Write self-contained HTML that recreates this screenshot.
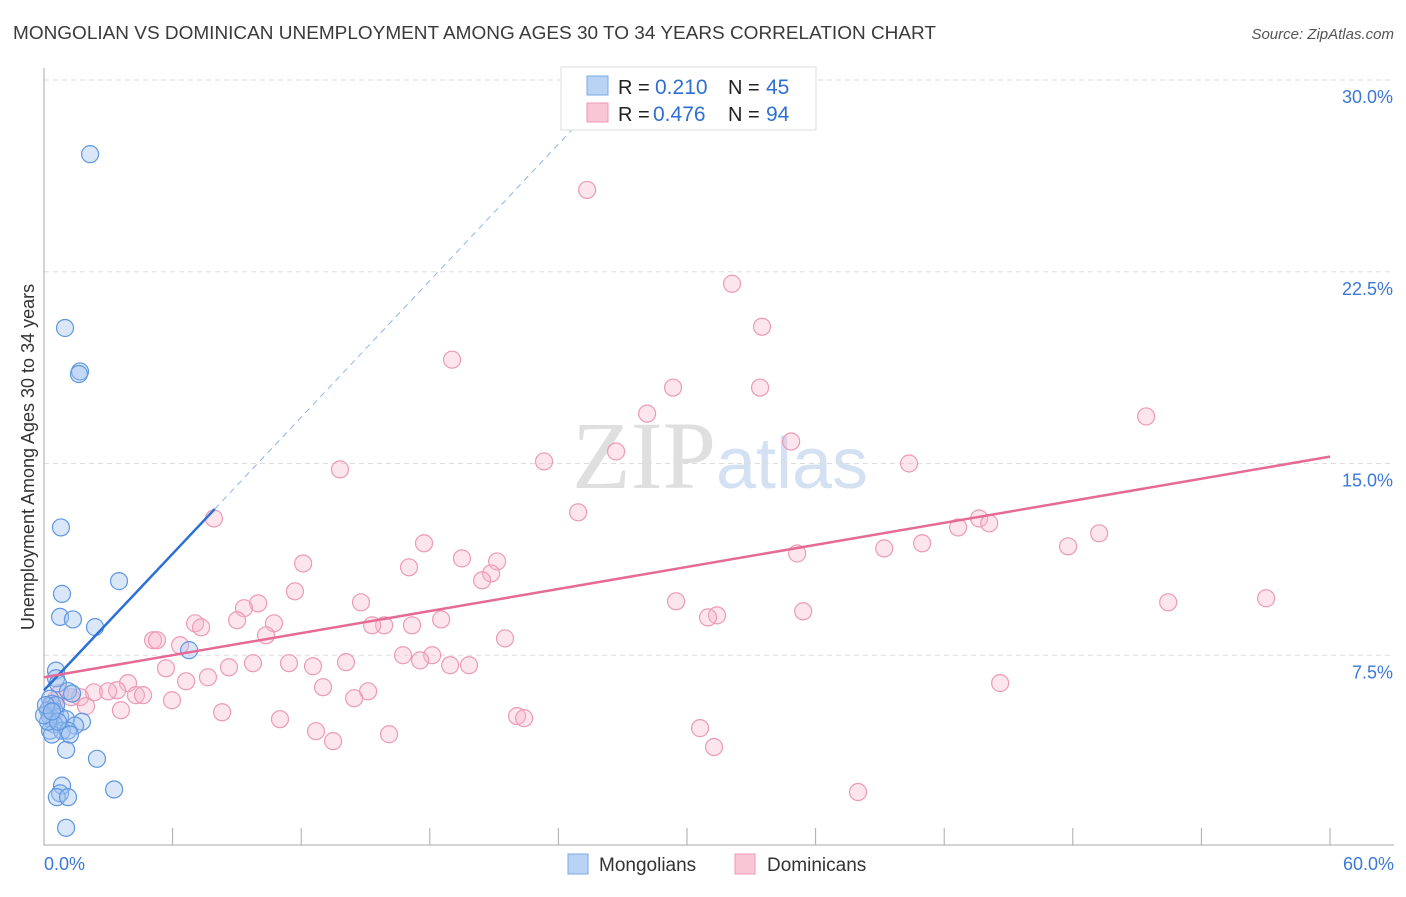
<!DOCTYPE html>
<html><head><meta charset="utf-8"><style>
body{margin:0;background:#fff;font-family:"Liberation Sans",sans-serif;}
</style></head><body>
<svg id="chart" width="1406" height="892" xmlns="http://www.w3.org/2000/svg" font-family="Liberation Sans, sans-serif">
<text x="13" y="39" font-size="18" fill="#3a3a3a" textLength="923" lengthAdjust="spacingAndGlyphs">MONGOLIAN VS DOMINICAN UNEMPLOYMENT AMONG AGES 30 TO 34 YEARS CORRELATION CHART</text>
<text x="1394" y="39" font-size="15" fill="#555" text-anchor="end" font-style="italic">Source: ZipAtlas.com</text>
<text x="720" y="488" font-size="96" text-anchor="middle" fill="#ddd" opacity="0.8"><tspan font-family="Liberation Serif, serif" fill="#d8d8d8">ZIP</tspan><tspan font-size="72" fill="#c9daf0">atlas</tspan></text>
<text transform="translate(34,457) rotate(-90)" font-size="18" fill="#333" text-anchor="middle">Unemployment Among Ages 30 to 34 years</text>
<g id="grid"></g><g id="pts"></g><g id="lines"></g>
<g>
<rect x="561" y="67" width="255" height="63" fill="#fff" stroke="#ddd"/>
<rect x="587" y="76" width="21" height="19" fill="#b9d3f5" stroke="#7aa9e8"/>
<rect x="587" y="103" width="21" height="19" fill="#f9c6d6" stroke="#ee97b4"/>
<text x="618" y="94" font-size="20" fill="#222">R =</text>
<text x="655" y="94" font-size="21" fill="#2f6fd1">0.210</text>
<text x="728" y="94" font-size="20" fill="#222">N =</text>
<text x="766" y="94" font-size="21" fill="#2f6fd1">45</text>
<text x="618" y="121" font-size="20" fill="#222">R =</text>
<text x="653" y="121" font-size="21" fill="#2f6fd1">0.476</text>
<text x="728" y="121" font-size="20" fill="#222">N =</text>
<text x="766" y="121" font-size="21" fill="#2f6fd1">94</text>
</g>
<g>
<rect x="568" y="854" width="20" height="20" fill="#b9d3f5" stroke="#7aa9e8"/>
<text x="599" y="871" font-size="19" fill="#333">Mongolians</text>
<rect x="735" y="854" width="20" height="20" fill="#f9c6d6" stroke="#ee97b4"/>
<text x="767" y="871" font-size="19" fill="#333">Dominicans</text>
</g>
</svg>
<script>
const yTicks=[7.5,15,22.5,30];
const yTickLabels=["7.5%","15.0%","22.5%","30.0%"];
const xTickLabels=["0.0%","60.0%"];
const monX=[2.15,0.98,1.68,1.63,0.79,3.5,0.84,0.75,1.35,2.38,6.77,0.56,0.56,0.65,1.12,1.31,0.28,0.37,0.19,0.51,0.28,0.75,1.03,1.77,1.45,0.47,0.28,0.84,1.12,0.37,1.03,2.47,0.84,3.27,0.75,0.6,1.12,1.03,0.19,0.56,0,1.21,0.09,0.65,0.37];
const monY=[27.1,20.3,18.6,18.5,12.5,10.4,9.9,9.0,8.9,8.6,7.7,6.9,6.6,6.4,6.1,6.0,5.8,5.6,5.35,5.3,5.1,5.1,5.0,4.9,4.75,4.8,4.55,4.55,4.55,4.4,3.8,3.45,2.4,2.25,2.1,1.95,1.95,0.75,4.9,5.55,5.15,4.4,5.55,4.9,5.3];
const domX=[25.34,32.1,33.5,19.04,29.35,33.41,28.14,51.42,34.86,26.69,23.33,40.36,13.81,7.93,24.92,43.63,44.1,42.65,49.23,40.97,17.73,39.2,47.78,35.14,19.5,12.09,21.14,17.03,20.86,20.44,11.71,29.49,52.45,57.02,14.79,9.99,9.33,31.4,30.98,35.42,9.01,7.05,10.73,7.33,17.17,15.87,15.31,18.53,10.36,21.51,5.09,5.27,6.35,16.75,18.11,17.55,18.95,19.83,14.09,12.55,11.43,9.75,8.63,5.69,7.65,6.63,3.92,44.61,3.41,2.33,2.99,4.29,4.62,15.12,13.02,14.47,5.97,0.75,1.26,1.68,3.59,1.96,8.31,11.01,22.07,22.4,12.69,16.1,13.49,30.61,31.26,37.98,0.51,0.28];
const domY=[25.7,22.03,20.35,19.06,17.97,17.97,16.95,16.84,15.86,15.47,15.08,15.0,14.77,12.85,13.09,12.85,12.66,12.5,12.27,11.88,11.88,11.68,11.76,11.48,11.29,11.09,11.17,10.94,10.7,10.43,10.0,9.61,9.57,9.73,9.57,9.53,9.34,9.06,8.98,9.22,8.87,8.75,8.75,8.59,8.67,8.67,8.67,8.9,8.28,8.16,8.09,8.09,7.89,7.5,7.5,7.3,7.11,7.11,7.23,7.07,7.19,7.19,7.03,6.99,6.64,6.48,6.41,6.41,6.13,6.05,6.09,5.94,5.94,6.09,6.25,5.82,5.74,6.02,5.86,5.86,5.35,5.51,5.27,5.0,5.12,5.04,4.53,4.41,4.14,4.65,3.91,2.15,5.74,5.51];
const monFit=[6.13,0.89];
const domFit=[6.64,0.1438];
const X0=44,X1=1330,Y0=847,YT=80;
const sx=v=>X0+v/60*(X1-X0);
const sy=v=>Y0-v/30*(Y0-YT);
const NS="http://www.w3.org/2000/svg";
function mk(t,a,p){const e=document.createElementNS(NS,t);for(const k in a)e.setAttribute(k,a[k]);p.appendChild(e);return e;}
const grid=document.getElementById('grid');
yTicks.forEach((t,i)=>{
 const l=mk('line',{x1:X0,x2:1394,y1:sy(t),y2:sy(t),stroke:'#ddd','stroke-dasharray':'5,4'},grid);
 
 
 const tx=mk('text',{x:1393,y:sy(t)+23,'font-size':18,fill:'#3b78d8','text-anchor':'end'},grid);
 tx.textContent=yTickLabels[i];
 
 
});
const ax=mk('path',{d:`M${X0},68V845H1394`,stroke:'#aaa',fill:'none'},grid);


for(let i=0;i<=10;i++){const x=sx(i*6);const tk=mk('line',{x1:x,x2:x,y1:828,y2:845,stroke:'#aaa'},grid);
 
 }
[[0,'start',44],[60,'end',1394]].forEach((d,i)=>{const t=mk('text',{x:d[2],y:870,'font-size':18,fill:'#3b78d8','text-anchor':d[1]},grid);t.textContent=xTickLabels[i];
 
 });
const pts=document.getElementById('pts');
domX.forEach((x,i)=>{const c=mk('circle',{cx:sx(x),cy:sy(domY[i]),r:8.5,fill:'rgba(248,180,203,0.35)',stroke:'#ec9ab6','stroke-width':1.2},pts);
 
 });
monX.forEach((x,i)=>{const c=mk('circle',{cx:sx(x),cy:sy(monY[i]),r:8.5,fill:'rgba(160,195,240,0.4)',stroke:'#5f97e0','stroke-width':1.2},pts);
 
 });
const lines=document.getElementById('lines');
const mEnd=Math.max(...monX)+1.2, mDash=(30-monFit[0])/monFit[1];
const b1=mk('line',{x1:sx(0),y1:sy(monFit[0]),x2:sx(mEnd),y2:sy(monFit[0]+monFit[1]*mEnd),stroke:'#2a6fd6','stroke-width':2.5},lines);


const b2=mk('line',{x1:sx(mEnd),y1:sy(monFit[0]+monFit[1]*mEnd),x2:sx(mDash),y2:sy(30),stroke:'#8fb3e8','stroke-width':1,'stroke-dasharray':'6,5'},lines);


const p1=mk('line',{x1:sx(0),y1:sy(domFit[0]),x2:sx(60),y2:sy(domFit[0]+domFit[1]*60),stroke:'#e56a96','stroke-width':2.5},lines);


</script>
</body></html>
